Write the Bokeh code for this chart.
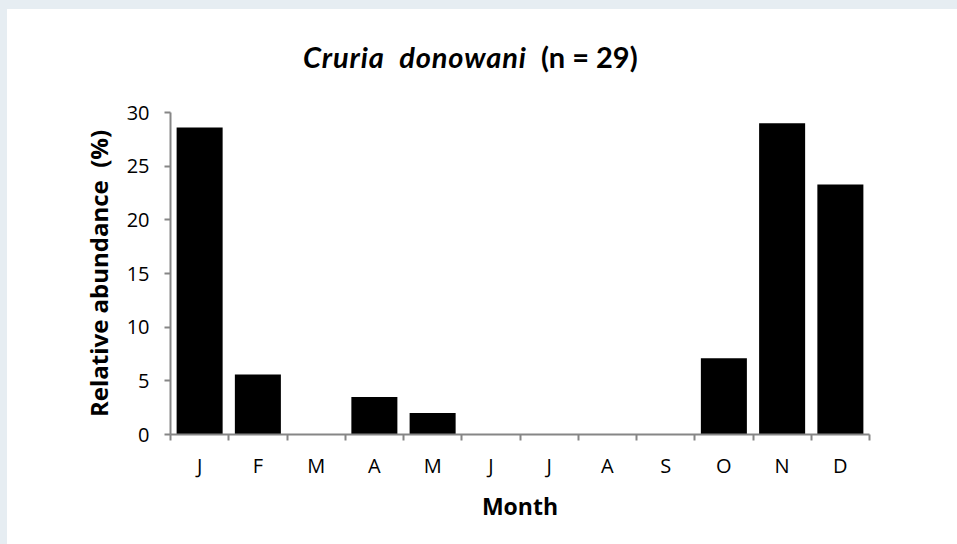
import numpy as np
from bokeh.plotting import figure
from bokeh.layouts import column
from bokeh.models import Range1d, FixedTicker, Div, GlobalInlineStyleSheet
from bokeh.embed import file_html
from bokeh.resources import INLINE

# ---- data ----
months = ["J", "F", "M", "A", "M", "J", "J", "A", "S", "O", "N", "D"]
abundance = [28.6, 5.6, 0.0, 3.5, 2.0, 0.0, 0.0, 0.0, 0.0, 7.1, 29.0, 23.3]
y_ticks = [0, 5, 10, 15, 20, 25, 30]
y_max = 30
title_species = "Cruria  donowani"
title_n = "(n = 29)"
x_label = "Month"
y_label = "Relative abundance \u00a0(%)"

FONT = "Open Sans"
TITLE_FONT = "Lato"
AXIS_GREY = "#868686"

n = len(months)
centers = [i + 0.5 for i in range(n)]
boundaries = list(range(n + 1))

TITLE_H = 90

# ---- title (italic species name + bold sample size) ----
title = Div(
    text=(f'<div style="padding:42px 0 0 303px; white-space:pre; font-family:{TITLE_FONT}; '
          f'font-weight:bold; font-size:29px; line-height:29px; color:black;">'
          f'<i style="letter-spacing:0.9px">{title_species}</i>  {title_n}</div>'),
    width=957, height=TITLE_H, margin=0)

p = figure(width=957, height=544 - TITLE_H,
           x_range=Range1d(0, n), y_range=Range1d(0, y_max),
           output_backend="svg", toolbar_location=None,
           min_border_left=170, min_border_right=88,
           min_border_top=112 - TITLE_H, min_border_bottom=110)
p.background_fill_color = "white"
p.border_fill_color = None
p.outline_line_color = None
p.grid.visible = False

p.vbar(x=centers, top=abundance, width=0.79, fill_color="black", line_color=None)

# x axis: labels at category centres, ticks at category boundaries
xa = p.xaxis[0]
xa.ticker = FixedTicker(ticks=centers, minor_ticks=boundaries)
xa.major_label_overrides = {c: m for c, m in zip(centers, months)}
xa.major_tick_out = 0
xa.major_tick_in = 0
xa.minor_tick_out = 6
xa.minor_tick_in = 0
xa.minor_tick_line_color = AXIS_GREY
xa.minor_tick_line_width = 2
xa.axis_line_color = AXIS_GREY
xa.axis_line_width = 2
xa.major_label_text_font = FONT
xa.major_label_text_font_size = "20px"
xa.major_label_text_color = "black"
xa.major_label_standoff = 11
xa.axis_label = x_label
xa.axis_label_text_font = FONT
xa.axis_label_text_font_size = "23px"
xa.axis_label_text_font_style = "bold"
xa.axis_label_text_color = "black"
xa.axis_label_standoff = 8

ya = p.yaxis[0]
ya.ticker = FixedTicker(ticks=y_ticks, minor_ticks=[])
ya.major_tick_out = 6
ya.major_tick_in = 0
ya.major_tick_line_color = AXIS_GREY
ya.major_tick_line_width = 2
ya.minor_tick_out = 0
ya.minor_tick_in = 0
ya.axis_line_color = AXIS_GREY
ya.axis_line_width = 2
ya.major_label_text_font = FONT
ya.major_label_text_font_size = "20px"
ya.major_label_text_color = "black"
ya.major_label_standoff = 15
ya.axis_label = y_label
ya.axis_label_text_font = FONT
ya.axis_label_text_font_size = "24px"
ya.axis_label_text_font_style = "bold"
ya.axis_label_text_color = "black"
ya.axis_label_standoff = 9

layout = column(title, p, spacing=0)
layout.stylesheets = [GlobalInlineStyleSheet(css=(
    "html { background: linear-gradient(to right, #e6edf2 7px, rgba(0,0,0,0) 7px),"
    " linear-gradient(to bottom, #e6edf2 9px, #ffffff 9px); }"
))]

open("out.html", "w").write(file_html(layout, INLINE))
